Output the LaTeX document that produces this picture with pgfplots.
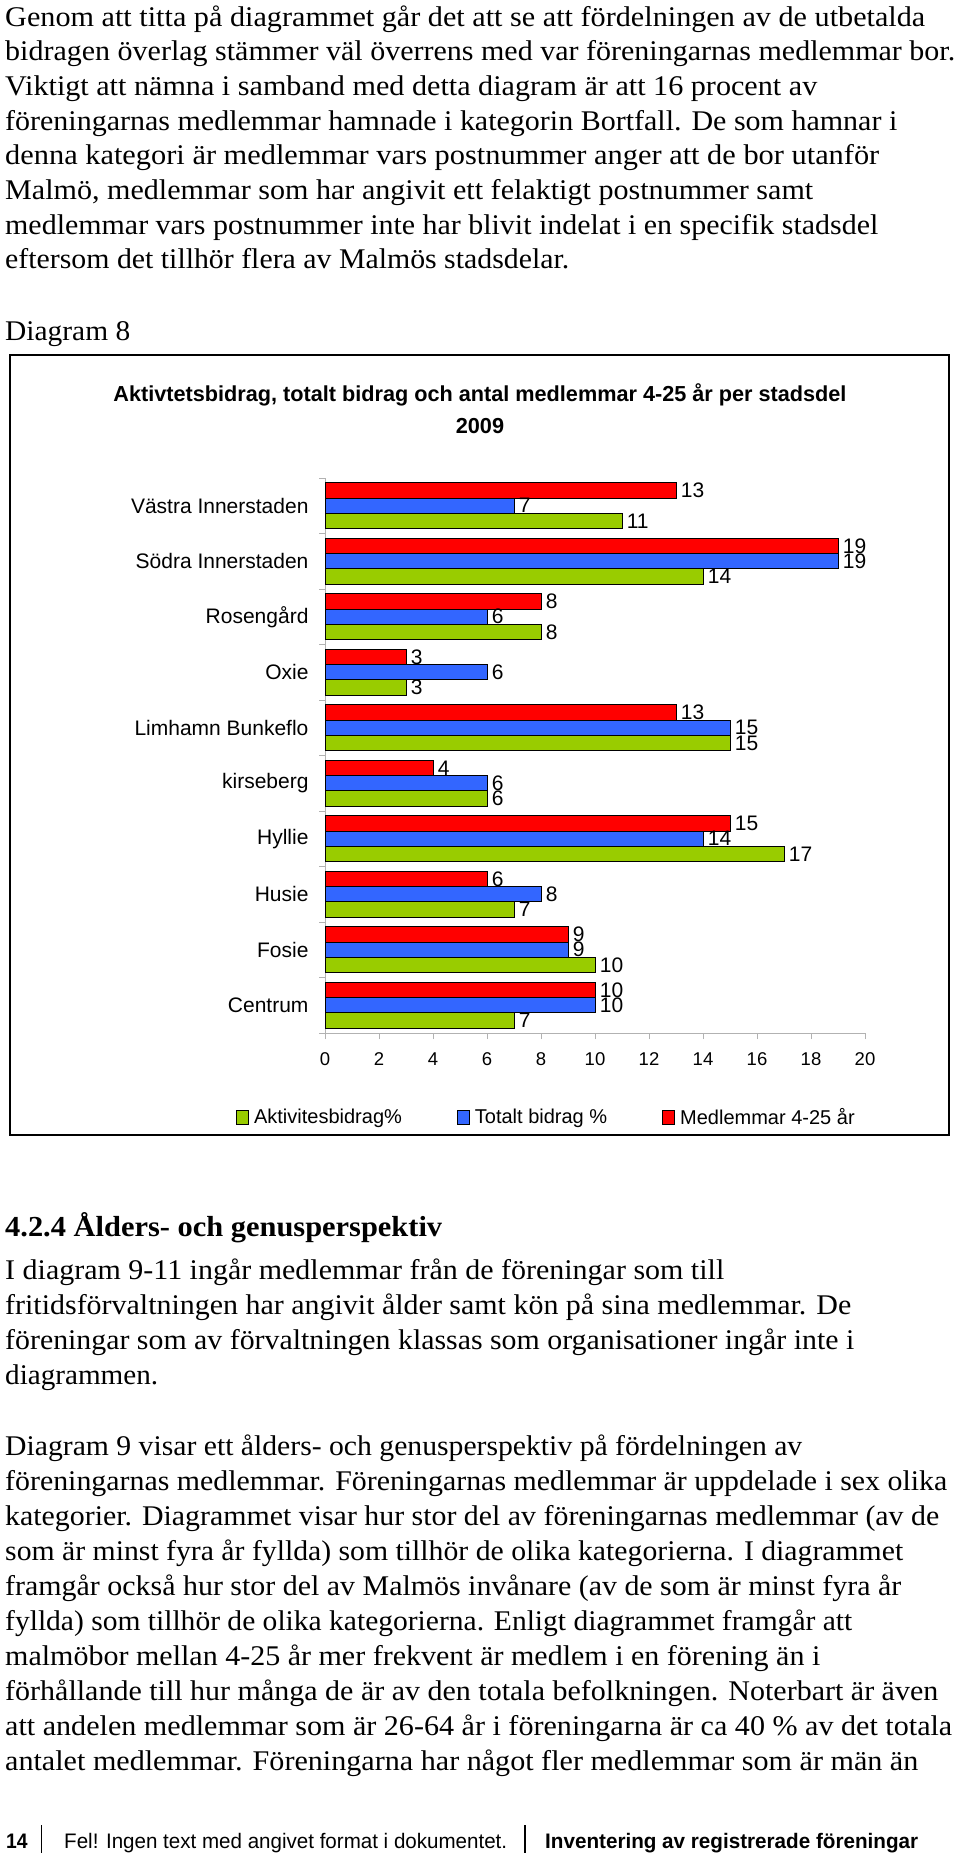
\documentclass[border=0pt]{standalone}
\usepackage{graphicx}
\usepackage{pgfplots}
\pgfplotsset{compat=1.18}
\usepackage{fontspec}
\setmainfont{Liberation Serif}
\newfontfamily\chartfont{Liberation Sans}

\definecolor{barred}{HTML}{FF0000}
\definecolor{barblue}{HTML}{3366FF}
\definecolor{bargreen}{HTML}{99CC00}

% one line of body text: baseline y, target width, text
\newcommand\T[3]{\node[anchor=base west,inner sep=0pt] at (5,#1)
  {\resizebox{#2pt}{\height}{\fontsize{28.5}{34}\selectfont #3}};}

\begin{document}
\begin{tikzpicture}[x=1pt,y=-1pt]
\fill[white] (0,0) rectangle (960,1856);
\path[use as bounding box] (0,0) rectangle (960,1856);

% text above the chart
\T{26}{920}{Genom att titta på diagrammet går det att se att fördelningen av de utbetalda}
\T{60.7}{950}{bidragen överlag stämmer väl överrens med var föreningarnas medlemmar bor.}
\T{95.4}{812}{Viktigt att nämna i samband med detta diagram är att 16 procent av}
\T{130.1}{892}{föreningarnas medlemmar hamnade i kategorin Bortfall. De som hamnar i}
\T{164.8}{874}{denna kategori är medlemmar vars postnummer anger att de bor utanför}
\T{199.5}{808}{Malmö, medlemmar som har angivit ett felaktigt postnummer samt}
\T{234.2}{873}{medlemmar vars postnummer inte har blivit indelat i en specifik stadsdel}
\T{268.9}{564}{eftersom det tillhör flera av Malmös stadsdelar.}
\T{340}{125}{Diagram 8}

% chart frame and title
\draw[line width=2pt] (10,355) rectangle (949,1135);
\node[anchor=base,inner sep=0pt] at (480,401)
  {\resizebox{733pt}{\height}{\chartfont\bfseries\fontsize{21.7}{26}\selectfont Aktivtetsbidrag, totalt bidrag och antal medlemmar 4-25 år per stadsdel}};
\node[anchor=base,inner sep=0pt] at (480,433)
  {\chartfont\bfseries\fontsize{21.7}{26}\selectfont 2009};

\begin{axis}[
  at={(325pt,-1033pt)}, anchor=south west,
  width=540pt, height=555pt, scale only axis,
  /pgf/number format/assume math mode=true,
  xbar, bar width=15.3pt,
  xmin=0, xmax=20, ymin=-0.5, ymax=9.5,
  axis x line*=bottom, axis y line*=left,
  axis line style={draw=gray!60, line width=1pt},
  tick style={draw=gray!60, line width=1pt},
  tick align=outside, major tick length=6pt,
  xtick={0,2,...,20},
  ytick={-0.5,0.5,...,9.5},
  yticklabels={Centrum,Fosie,Husie,Hyllie,kirseberg,Limhamn Bunkeflo,Oxie,Rosengård,Södra Innerstaden,Västra Innerstaden,{}},
  xticklabel style={font=\chartfont\fontsize{18.5}{22}\selectfont, yshift=-10.5pt},
  yticklabel style={font=\chartfont\fontsize{21}{25}\selectfont, yshift=27.75pt, xshift=-7pt},
  nodes near coords,
  every node near coord/.append style={font=\chartfont\fontsize{21}{25}\selectfont, black, xshift=1pt},
  legend columns=3,
  legend style={draw=none, at={(0.41,-0.1514)}, anchor=center,
    font=\chartfont\fontsize{20}{24}\selectfont,
    /tikz/every odd column/.append style={column sep=3pt},
    /tikz/every even column/.append style={column sep=53pt}},
  legend image code/.code={\draw[#1] (0pt,-7pt) rectangle (12pt,7pt);},
]
% Aktivitesbidrag% (bottom bar of each group)
\addplot[fill=bargreen, draw=black, line width=1pt, bar shift=-15.3pt] coordinates {
  (7,0) (10,1) (7,2) (17,3) (6,4) (15,5) (3,6) (8,7) (14,8) (11,9)};
% Totalt bidrag %
\addplot[fill=barblue, draw=black, line width=1pt, bar shift=0pt] coordinates {
  (10,0) (9,1) (8,2) (14,3) (6,4) (15,5) (6,6) (6,7) (19,8) (7,9)};
% Medlemmar 4-25 år
\addplot[fill=barred, draw=black, line width=1pt, bar shift=15.3pt] coordinates {
  (10,0) (9,1) (6,2) (15,3) (4,4) (13,5) (3,6) (8,7) (19,8) (13,9)};
\legend{Aktivitesbidrag\%, Totalt bidrag \%, Medlemmar 4-25 år}
\end{axis}

% text below the chart
\node[anchor=base west,inner sep=0pt] at (5,1236)
  {\resizebox{437pt}{\height}{\bfseries\fontsize{29}{34}\selectfont 4.2.4 Ålders- och genusperspektiv}};
\T{1279.5}{719}{I diagram 9-11 ingår medlemmar från de föreningar som till}
\T{1314.5}{846}{fritidsförvaltningen har angivit ålder samt kön på sina medlemmar. De}
\T{1349.5}{849}{föreningar som av förvaltningen klassas som organisationer ingår inte i}
\T{1384.5}{153}{diagrammen.}
\T{1455}{797}{Diagram 9 visar ett ålders- och genusperspektiv på fördelningen av}
\T{1490}{942}{föreningarnas medlemmar. Föreningarnas medlemmar är uppdelade i sex olika}
\T{1525}{934}{kategorier. Diagrammet visar hur stor del av föreningarnas medlemmar (av de}
\T{1560}{898}{som är minst fyra år fyllda) som tillhör de olika kategorierna. I diagrammet}
\T{1595}{896}{framgår också hur stor del av Malmös invånare (av de som är minst fyra år}
\T{1630}{847}{fyllda) som tillhör de olika kategorierna. Enligt diagrammet framgår att}
\T{1665}{815}{malmöbor mellan 4-25 år mer frekvent är medlem i en förening än i}
\T{1700}{933}{förhållande till hur många de är av den totala befolkningen. Noterbart är även}
\T{1735}{947}{att andelen medlemmar som är 26-64 år i föreningarna är ca 40 \% av det totala}
\T{1770}{913}{antalet medlemmar. Föreningarna har något fler medlemmar som är män än}

% footer
\node[anchor=base west,inner sep=0pt] at (6,1848)
  {\resizebox{21.5pt}{\height}{\chartfont\bfseries\fontsize{21}{25}\selectfont 14}};
\draw[line width=1.3pt] (41.6,1825) -- (41.6,1853);
\node[anchor=base west,inner sep=0pt] at (64,1848)
  {\resizebox{443pt}{\height}{\chartfont\fontsize{21}{25}\selectfont Fel! Ingen text med angivet format i dokumentet.}};
\draw[line width=1.3pt] (525,1825) -- (525,1853);
\node[anchor=base west,inner sep=0pt] at (545,1848)
  {\resizebox{373pt}{\height}{\chartfont\bfseries\fontsize{21}{25}\selectfont Inventering av registrerade föreningar}};
\end{tikzpicture}
\end{document}
